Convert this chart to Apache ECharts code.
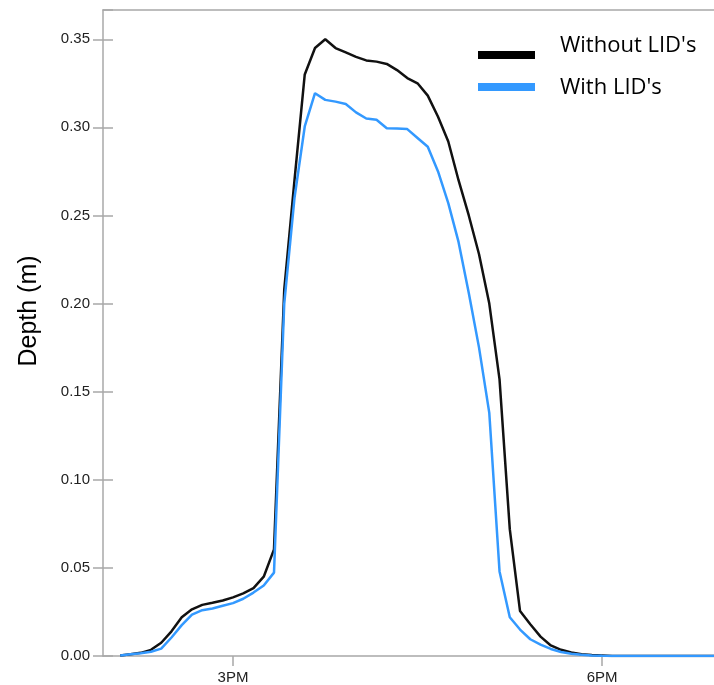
<!DOCTYPE html>
<html>
<head>
<meta charset="utf-8">
<script src="https://cdn.jsdelivr.net/npm/echarts@6/dist/echarts.min.js"></script>
<style>
  html, body { margin: 0; padding: 0; background: #fff; }
  #chart { width: 714px; height: 685px; }
</style>
</head>
<body>
<div id="chart"></div>
<script>
// minutes after noon, one reading every 5 minutes (2:05PM .. 6:55PM)
const minutes = [
  125, 130, 135, 140, 145, 150, 155, 160, 165, 170, 175, 180,
  185, 190, 195, 200, 205, 210, 215, 220, 225, 230, 235, 240,
  245, 250, 255, 260, 265, 270, 275, 280, 285, 290, 295, 300,
  305, 310, 315, 320, 325, 330, 335, 340, 345, 350, 355, 360,
  365, 370, 375, 380, 385, 390, 395, 400, 405, 410, 415
];

const withoutLID = [
  0.0003, 0.001, 0.0018, 0.0035, 0.0075, 0.014, 0.022, 0.0265, 0.029, 0.0302, 0.0315, 0.0333,
  0.0355, 0.0385, 0.045, 0.0605, 0.208, 0.27, 0.330, 0.345, 0.350, 0.345, 0.3425, 0.340,
  0.338, 0.3373, 0.336, 0.3325, 0.328, 0.325, 0.318, 0.306, 0.292, 0.270, 0.25, 0.228,
  0.20, 0.157, 0.072, 0.0255, 0.018, 0.011, 0.006, 0.0035, 0.002, 0.001, 0.0006, 0.0003,
  0, 0, 0, 0, 0, 0, 0, 0, 0, 0, 0
];

const withLID = [
  0.0003, 0.001, 0.0016, 0.0024, 0.0042, 0.0105, 0.0175, 0.0235, 0.026, 0.027, 0.0285, 0.030,
  0.0325, 0.036, 0.040, 0.0473, 0.20, 0.26, 0.3005, 0.3194, 0.3156, 0.3146, 0.3133, 0.3085,
  0.305, 0.3043, 0.2995, 0.2993, 0.299, 0.294, 0.289, 0.275, 0.257, 0.235, 0.206, 0.175,
  0.138, 0.048, 0.022, 0.015, 0.0095, 0.0065, 0.004, 0.0023, 0.0013, 0.0007, 0.0003, 0.0001,
  0, 0, 0, 0, 0, 0, 0, 0, 0, 0, 0
];

const seriesNames = ["Without LID's", "With LID's"];
const seriesColors = ['#111', '#3399ff'];

const tickMinutes = [180, 360];
const tickLabels = ['3PM', '6PM'];

const axisGray = '#a8a8a8';
const labelFont = { fontFamily: 'Liberation Sans, Arial, sans-serif', fontSize: 15, color: '#222' };

// hand-placed legend: the first label sits a little above its swatch, like the original
const legendFont = '22px "Open Sans", sans-serif';
const legendItems = [
  { swatchY: 51, textY: 46 },
  { swatchY: 83, textY: 88 }
];
const legendGraphics = [];
legendItems.forEach((it, i) => {
  legendGraphics.push({
    type: 'rect', left: 478, top: it.swatchY, silent: true,
    shape: { width: 57, height: 8 }, style: { fill: seriesColors[i] === '#111' ? '#000' : seriesColors[i] }
  });
  legendGraphics.push({
    type: 'text', x: 560, y: it.textY, silent: true,
    style: { text: seriesNames[i], font: legendFont, fill: '#000', verticalAlign: 'middle' }
  });
});

const chart = echarts.init(document.getElementById('chart'));
chart.setOption({
  animation: false,
  backgroundColor: '#fff',
  grid: { left: 103, top: 10, right: 0, bottom: 28 },
  graphic: legendGraphics,
  xAxis: [{
    type: 'value',
    min: 116.6, max: 414.6,
    axisLine: { lineStyle: { color: axisGray, width: 1.5 } },
    axisTick: { show: true, length: 10, customValues: tickMinutes, lineStyle: { color: axisGray, width: 1.5 } },
    axisLabel: Object.assign({
      margin: 14, customValues: tickMinutes,
      formatter: (v) => tickLabels[tickMinutes.indexOf(v)] || ''
    }, labelFont),
    splitLine: { show: false }
  }, {
    type: 'value', position: 'top',
    min: 116.6, max: 414.6,
    axisLine: { show: true, onZero: false, lineStyle: { color: axisGray, width: 1.5 } },
    axisTick: { show: false }, axisLabel: { show: false }, splitLine: { show: false }
  }],
  yAxis: [{
    type: 'value',
    min: 0, max: 0.3666, interval: 0.05,
    name: 'Depth (m)', nameLocation: 'middle', nameGap: 61, nameRotate: 90,
    nameTextStyle: {
      fontFamily: 'Liberation Sans, Arial, sans-serif', fontSize: 25, color: '#000',
      padding: [0, 0, 0, 44]
    },
    axisLine: { show: true, lineStyle: { color: axisGray, width: 1.5 } },
    axisTick: { show: true, length: 10, lineStyle: { color: axisGray, width: 1.5 } },
    axisLabel: Object.assign({
      margin: 13, showMaxLabel: false,
      formatter: (v) => v.toFixed(2)
    }, labelFont),
    splitLine: { show: false }
  }, {
    type: 'value', position: 'left',
    min: 0, max: 0.3666, interval: 0.05,
    axisLine: { show: false },
    axisTick: { show: true, inside: true, length: 10, lineStyle: { color: axisGray, width: 1.5 } },
    axisLabel: { show: false }, splitLine: { show: false }
  }],
  series: [{
    name: seriesNames[0],
    type: 'line',
    showSymbol: false,
    color: seriesColors[0],
    lineStyle: { width: 2.5, color: seriesColors[0] },
    data: minutes.map((m, i) => [m, withoutLID[i]])
  }, {
    name: seriesNames[1],
    type: 'line',
    showSymbol: false,
    color: seriesColors[1],
    lineStyle: { width: 2.5, color: seriesColors[1] },
    data: minutes.map((m, i) => [m, withLID[i]])
  }]
});
</script>
</body>
</html>
